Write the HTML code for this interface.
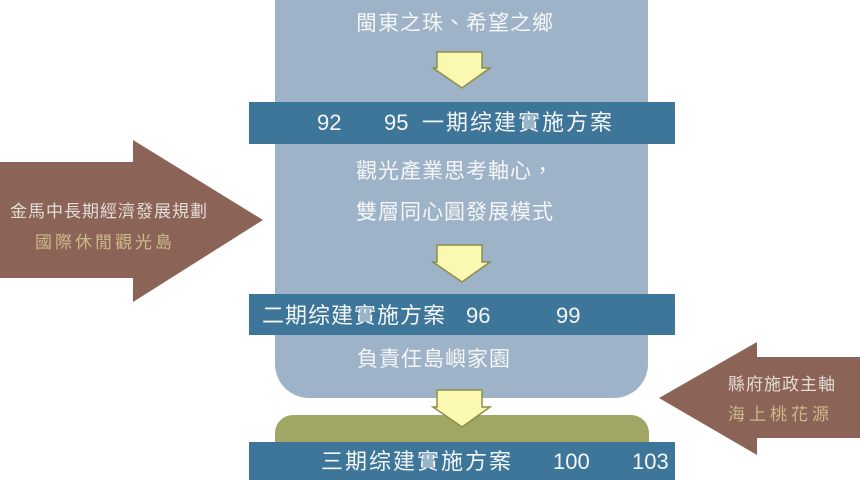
<!DOCTYPE html>
<html><head><meta charset="utf-8"><style>
body{margin:0;width:860px;height:480px;background:#fff;overflow:hidden;position:relative;font-family:"Liberation Sans","Noto Sans CJK TC",sans-serif}
div{position:absolute}
.t{white-space:nowrap;color:#f4f6f8;font-size:21px;line-height:1}
</style></head><body>
<div style="left:275px;top:0;width:373px;height:398px;background:#9fb3c8;border-radius:0 0 34px 34px"></div>
<div style="left:275px;top:415px;width:374px;height:40px;background:#a2a665;border-radius:18px 18px 0 0"></div>
<div style="left:249px;top:102px;width:426px;height:42px;background:#3e7699"></div>
<div style="left:249px;top:294px;width:426px;height:41px;background:#3e7699"></div>
<div style="left:249px;top:442px;width:426px;height:38px;background:#3e7699"></div>
<svg width="860" height="480" style="position:absolute;left:0;top:0">
<g fill="#fbf8b2" stroke="#8a8f48" stroke-width="1.5">
<polygon points="437,52 482,52 482,68 490,68 462,88 433,68 437,68"/>
<polygon points="437,245 482,245 482,262 490,262 462,282 433,262 437,262"/>
<polygon points="437,390 482,390 482,407 490,407 462,427 433,407 437,407"/>
</g>
<polygon fill="#8c6357" points="0,162 133,162 133,140 263,220 133,302 133,278 0,278"/>
<polygon fill="#8c6357" points="860,357 757,357 757,342 659,398 757,455 757,438 860,438"/>
</svg>
<div class="t" style="left:356px;top:13px;letter-spacing:1px">閩東之珠、希望之鄉</div>
<div class="t" style="left:317px;top:112px;font-size:22px">92</div>
<div class="t" style="left:384px;top:112px;font-size:22px">95</div>
<div class="t" style="left:422px;top:112px;font-size:22px;letter-spacing:2px">一期综建實施方案</div>
<div class="t" style="left:356px;top:161px;letter-spacing:1px">觀光產業思考軸心，</div>
<div class="t" style="left:356px;top:202px;letter-spacing:1px">雙層同心圓發展模式</div>
<div class="t" style="left:262px;top:305px;font-size:22px;letter-spacing:1px">二期综建實施方案</div>
<div class="t" style="left:466px;top:305px;font-size:22px">96</div>
<div class="t" style="left:556px;top:305px;font-size:22px">99</div>
<div class="t" style="left:357px;top:349px;letter-spacing:1px">負責任島嶼家園</div>
<div class="t" style="left:321px;top:451px;font-size:22px;letter-spacing:2px">三期综建實施方案</div>
<div class="t" style="left:553px;top:451px;font-size:22px">100</div>
<div class="t" style="left:632px;top:451px;font-size:22px">103</div>
<div class="t" style="left:10px;top:203px;font-size:17px;color:#e2dcd6;letter-spacing:1px">金馬中長期經濟發展規劃</div>
<div class="t" style="left:35px;top:234px;font-size:17px;color:#cbb98a;letter-spacing:3px">國際休閒觀光島</div>
<div class="t" style="left:728px;top:376px;font-size:17px;color:#e2dcd6;letter-spacing:1px">縣府施政主軸</div>
<div class="t" style="left:728px;top:406px;font-size:17px;color:#cbb98a;letter-spacing:4px">海上桃花源</div>
</body></html>
